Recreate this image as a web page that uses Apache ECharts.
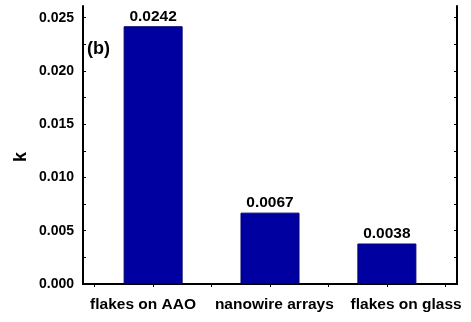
<!DOCTYPE html>
<html lang="en">
<head>
    <meta charset="utf-8">
    <title>k</title>
    <script type="text/javascript" src="https://cdn.jsdelivr.net/npm/echarts@6/dist/echarts.min.js"></script>
    <style>
        html, body { margin: 0; padding: 0; background: #fff; }
        #chartMain { width: 471px; height: 322px; }
    </style>
</head>
<body>
    <div id="chartMain"></div>
    <script type="text/javascript">
        // data
        var categories = ['flakes on AAO', 'nanowire arrays', 'flakes on glass'];
        var positions = [1, 2, 3];
        var kValues = [0.0242, 0.0067, 0.0038];
        // category labels in the original sit evenly spaced, a little off the bars
        var labelPositions = [0.914, 2.037, 3.165];
        var yTickLabels = [0, 0.005, 0.010, 0.015, 0.020, 0.025];
        var yTicks = [0, 0.0025, 0.005, 0.0075, 0.010, 0.0125, 0.015, 0.0175, 0.020, 0.0225, 0.025];
        var topTicks = [0.5, 1, 1.5, 2, 2.5, 3, 3.5];

        var font = "'Liberation Sans', Arial, sans-serif";
        var barData = positions.map(function (p, i) { return [p, kValues[i]]; });

        var chart = echarts.init(document.getElementById('chartMain'));
        chart.setOption({
            animation: false,
            textStyle: { fontFamily: font },
            grid: { left: 83, right: 14, top: 6, bottom: 38 },
            graphic: [{
                type: 'text',
                left: 87,
                top: 40,
                style: { text: '(b)', font: 'bold 18px ' + font, fill: '#000' }
            }, {
                type: 'text',
                x: 21,
                y: 157,
                rotation: Math.PI / 2,
                style: { text: 'k', font: 'bold 18px ' + font, fill: '#000', align: 'center', verticalAlign: 'middle' }
            }],
            xAxis: [{
                type: 'value',
                position: 'bottom',
                min: 0.4,
                max: 3.6,
                splitLine: { show: false },
                axisLine: { lineStyle: { color: '#000', width: 2 } },
                axisTick: { show: false },
                axisLabel: {
                    customValues: labelPositions,
                    margin: 13,
                    color: '#000',
                    fontWeight: 'bold',
                    fontSize: 15.5,
                    fontFamily: font,
                    formatter: function (v) { return categories[labelPositions.indexOf(v)]; }
                }
            }, {
                type: 'value',
                position: 'top',
                min: 0.4,
                max: 3.6,
                splitLine: { show: false },
                axisLine: { lineStyle: { color: '#000', width: 2 } },
                axisTick: { inside: true, length: 3, customValues: topTicks, lineStyle: { color: '#000' } },
                axisLabel: { show: false }
            }],
            yAxis: [{
                type: 'value',
                position: 'left',
                min: 0,
                max: 0.0261,
                splitLine: { show: false },
                axisLine: { lineStyle: { color: '#000', width: 2 } },
                axisTick: { inside: true, length: 3, customValues: yTicks, lineStyle: { color: '#000' } },
                axisLabel: {
                    customValues: yTickLabels,
                    margin: 9,
                    color: '#000',
                    fontWeight: 'bold',
                    fontSize: 14,
                    fontFamily: font,
                    formatter: function (v) { return v.toFixed(3); }
                }
            }, {
                type: 'value',
                position: 'right',
                min: 0,
                max: 0.0261,
                splitLine: { show: false },
                axisLine: { lineStyle: { color: '#000', width: 2 } },
                axisTick: { inside: true, length: 3, customValues: yTicks, lineStyle: { color: '#000' } },
                axisLabel: { show: false }
            }],
            series: [{
                type: 'bar',
                xAxisIndex: 0,
                yAxisIndex: 0,
                barWidth: 59,
                data: barData,
                itemStyle: { color: '#0000A0', borderColor: '#00006a', borderWidth: 1 },
                label: {
                    show: true,
                    position: 'top',
                    distance: 2,
                    color: '#000',
                    fontWeight: 'bold',
                    fontSize: 15.5,
                    fontFamily: font,
                    formatter: function (p) { return String(p.value[1]); }
                }
            }]
        });
    </script>
</body>
</html>
